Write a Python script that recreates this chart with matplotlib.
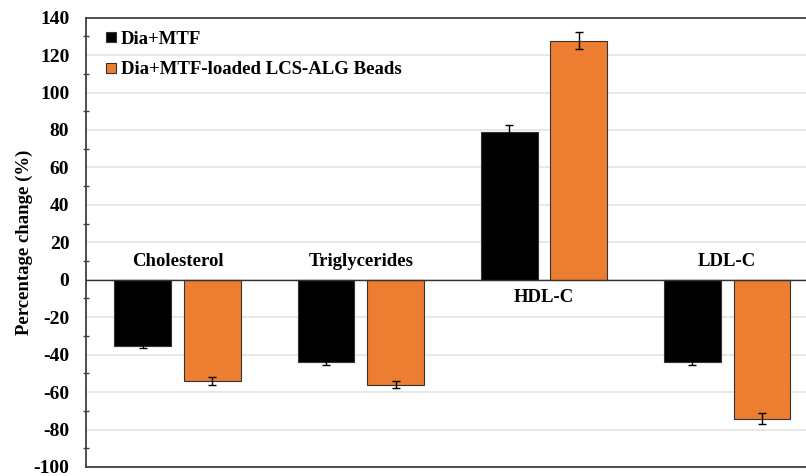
import matplotlib.pyplot as plt
import numpy as np
from matplotlib.lines import Line2D

# Percentage change of lipid profile parameters
categories = ["Cholesterol", "Triglycerides", "HDL-C", "LDL-C"]
series_names = ["Dia+MTF", "Dia+MTF-loaded LCS-ALG Beads"]
dia_mtf = [-35.2, -44.2, 78.7, -44.0]
dia_mtf_err = [1.5, 1.5, 4.0, 1.5]
beads = [-54.0, -56.0, 127.6, -74.2]
beads_err = [2.0, 2.0, 4.5, 2.8]

BLACK = "#000000"
ORANGE = "#ED7D31"
SERIF = ["Liberation Serif", "DejaVu Serif"]

plt.rcParams["axes.unicode_minus"] = False


def main():
    fig = plt.figure(figsize=(8.06, 4.76), dpi=100, facecolor="white")
    ax = fig.add_axes([0.1067, 0.019, 0.8933, 0.944])

    x = np.arange(len(categories))
    w = 0.31
    off = 0.19

    ax.bar(x - off, dia_mtf, w, color=BLACK, edgecolor="#333333", lw=0.8, zorder=3)
    ax.bar(x + off, beads, w, color=ORANGE, edgecolor="#333333", lw=0.8, zorder=3)
    ax.errorbar(x - off, dia_mtf, yerr=dia_mtf_err, fmt="none", ecolor="black",
                elinewidth=1, capsize=3, capthick=1, zorder=4)
    ax.errorbar(x + off, beads, yerr=beads_err, fmt="none", ecolor="black",
                elinewidth=1, capsize=3, capthick=1, zorder=4)

    # category names sit on the side of the zero line opposite the bars
    for xi, name, a, b in zip(x, categories, dia_mtf, beads):
        if max(a, b) > 0:
            y, va = -5, "top"
        else:
            y, va = 5, "bottom"
        ax.text(xi, y, name, ha="center", va=va, fontsize=13.5,
                fontweight="bold", family=SERIF, zorder=5)

    ax.axhline(0, color="#333333", lw=1.0, zorder=3)

    ax.set_xlim(-0.5, 3.43)
    ax.set_ylim(-100, 140)
    ax.set_yticks(np.arange(-100, 141, 20))
    ax.set_yticks(np.arange(-90, 140, 20), minor=True)
    ax.set_xticks([])
    ax.grid(axis="y", which="major", color="#E3E3E3", lw=1.2, zorder=0)
    ax.tick_params(axis="y", which="major", length=0, pad=12)
    ax.tick_params(axis="y", which="minor", length=5, width=1,
                   color="#404040", direction="inout")
    for lab in ax.get_yticklabels():
        lab.set_fontfamily(SERIF)
        lab.set_fontweight("bold")
        lab.set_fontsize(14)

    ax.set_ylabel("Percentage change (%)", fontsize=13.5, fontweight="bold",
                  family=SERIF, labelpad=0.5)

    for side in ["top", "bottom", "left"]:
        ax.spines[side].set_color("#404040")
        ax.spines[side].set_linewidth(1.3)
    ax.spines["right"].set_visible(False)

    handles = [
        Line2D([], [], ls="", marker="s", markersize=6.5,
               markerfacecolor=BLACK, markeredgecolor="#333333", markeredgewidth=0.8),
        Line2D([], [], ls="", marker="s", markersize=6.5,
               markerfacecolor=ORANGE, markeredgecolor="#333333", markeredgewidth=0.8),
    ]
    ax.legend(handles, series_names, loc="upper left", bbox_to_anchor=(0.008, 1.0),
              frameon=False, prop={"family": SERIF, "weight": "bold", "size": 13.5},
              handlelength=0.6, handletextpad=0.25, labelspacing=0.7,
              borderaxespad=0.3)

    fig.savefig("out.png", dpi=100)


if __name__ == "__main__":
    main()
